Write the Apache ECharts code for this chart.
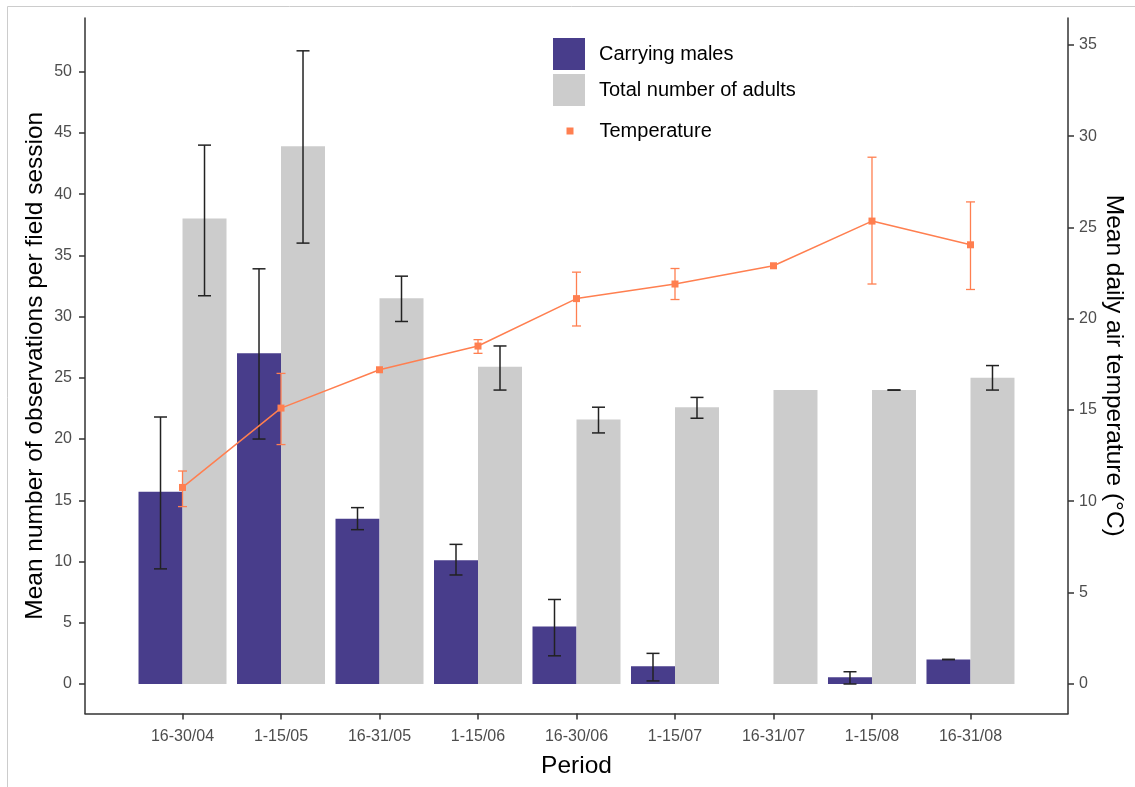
<!DOCTYPE html>
<html>
<head>
<meta charset="utf-8">
<script src="https://cdn.jsdelivr.net/npm/echarts@6/dist/echarts.min.js"></script>
<style>html,body{margin:0;padding:0;background:#fff}#chart{width:1135px;height:787px}</style>
</head>
<body>
<div id="chart"></div>
<script>
const categories = ['16-30/04','1-15/05','16-31/05','1-15/06','16-30/06','1-15/07','16-31/07','1-15/08','16-31/08'];
const males      = [15.7, 27.0, 13.5, 10.1, 4.7, 1.45, 0, 0.55, 2.0];
const malesLow   = [9.4, 20.0, 12.6, 8.9, 2.3, 0.25, null, 0.0, 2.0];
const malesHigh  = [21.8, 33.9, 14.4, 11.4, 6.9, 2.5, null, 1.0, 2.0];
const adults     = [38.0, 43.9, 31.5, 25.9, 21.6, 22.6, 24.0, 24.0, 25.0];
const adultsLow  = [31.7, 36.0, 29.6, 24.0, 20.5, 21.7, null, 24.0, 24.0];
const adultsHigh = [44.0, 51.7, 33.3, 27.6, 22.6, 23.4, null, 24.0, 26.0];
const temp       = [10.75, 15.1, 17.2, 18.5, 21.1, 21.9, 22.9, 25.35, 24.05];
const tempLow    = [9.7, 13.1, null, 18.1, 19.6, 21.05, null, 21.9, 21.6];
const tempHigh   = [11.65, 17.0, null, 18.85, 22.55, 22.75, null, 28.85, 26.4];
const leftTicks  = [0, 5, 10, 15, 20, 25, 30, 35, 40, 45, 50];
const rightTicks = [0, 5, 10, 15, 20, 25, 30, 35];
const xTicks = categories.map((c, i) => i);

const FONT = 'Liberation Sans, Arial, sans-serif';
const PURPLE = '#483D8B', GREY = '#CCCCCC', ORANGE = '#FF7F50';

function errData(lo, hi) {
  const out = [];
  categories.forEach((c, i) => { if (lo[i] != null) out.push([i, lo[i], hi[i]]); });
  return out;
}
function errRender(shift, color, cap, lw) {
  return function (params, api) {
    const x = api.value(0), lo = api.value(1), hi = api.value(2);
    const a = api.coord([x, lo]), b = api.coord([x, hi]);
    const cx = a[0] + shift;
    const st = { stroke: color, lineWidth: lw };
    return { type: 'group', children: [
      { type: 'line', shape: { x1: cx, y1: a[1], x2: cx, y2: b[1] }, style: st },
      { type: 'line', shape: { x1: cx - cap / 2, y1: a[1], x2: cx + cap / 2, y2: a[1] }, style: st },
      { type: 'line', shape: { x1: cx - cap / 2, y1: b[1], x2: cx + cap / 2, y2: b[1] }, style: st }
    ]};
  };
}

const axisLineStyle = { color: '#333333', width: 1.5 };
const chart = echarts.init(document.getElementById('chart'));
chart.setOption({
  animation: false,
  backgroundColor: '#ffffff',
  grid: { left: 85, right: 67, top: 18, bottom: 73.5, containLabel: false, outerBoundsMode: 'none' },
  graphic: [{ type: 'rect', silent: true, shape: { x: 7.5, y: 6.5, width: 1140, height: 800 },
    style: { fill: 'none', stroke: '#cccccc', lineWidth: 1 }, z: -10 }],
  legend: [
    { data: ['Carrying males', 'Total number of adults'], orient: 'vertical', left: 553, top: 38,
      padding: 0, itemWidth: 32, itemHeight: 32, itemGap: 4, icon: 'rect', selectedMode: false,
      textStyle: { fontSize: 20, fontFamily: FONT, color: '#000', padding: [0, 0, 0, 9] } },
    { data: [{ name: 'Temperature', icon: 'rect' }], orient: 'vertical', left: 566.5, top: 121,
      padding: 0, itemWidth: 7, itemHeight: 7, selectedMode: false,
      textStyle: { fontSize: 20, fontFamily: FONT, color: '#000', padding: [0, 0, 0, 21] } }
  ],
  xAxis: {
    type: 'value', min: -0.99, max: 8.99,
    name: 'Period', nameLocation: 'middle', nameGap: 40, nameMoveOverlap: false,
    nameTextStyle: { fontSize: 24.5, fontFamily: FONT, color: '#000' },
    axisLine: { show: true, onZero: false, lineStyle: axisLineStyle },
    axisTick: { show: true, length: 6, customValues: xTicks, lineStyle: axisLineStyle },
    axisLabel: { customValues: xTicks, margin: 15, fontSize: 16, fontFamily: FONT, color: '#4D4D4D',
      formatter: v => categories[Math.round(v)] },
    splitLine: { show: false }
  },
  yAxis: [
    { type: 'value', position: 'left', min: -2.41, max: 54.38,
      name: 'Mean number of observations per field session', nameLocation: 'middle', nameGap: 37, nameRotate: 90,
      nameMoveOverlap: false,
      nameTextStyle: { fontSize: 24.5, fontFamily: FONT, color: '#000' },
      axisLine: { show: true, onZero: false, lineStyle: axisLineStyle },
      axisTick: { show: true, length: 6, customValues: leftTicks, lineStyle: axisLineStyle },
      axisLabel: { customValues: leftTicks, margin: 13, fontSize: 16, fontFamily: FONT, color: '#4D4D4D' },
      splitLine: { show: false } },
    { type: 'value', position: 'right', min: -1.64, max: 36.48,
      name: 'Mean daily air temperature (°C)', nameLocation: 'middle', nameGap: 33, nameRotate: -90,
      nameMoveOverlap: false,
      nameTextStyle: { fontSize: 24.5, fontFamily: FONT, color: '#000' },
      axisLine: { show: true, onZero: false, lineStyle: axisLineStyle },
      axisTick: { show: true, length: 6, customValues: rightTicks, lineStyle: axisLineStyle },
      axisLabel: { customValues: rightTicks, margin: 11, fontSize: 16, fontFamily: FONT, color: '#4D4D4D' },
      splitLine: { show: false } }
  ],
  series: [
    { name: 'Carrying males', type: 'bar', yAxisIndex: 0, barWidth: 44, barGap: '0%',
      itemStyle: { color: PURPLE }, z: 2, data: males.map((v, i) => [i, v]) },
    { name: 'Total number of adults', type: 'bar', yAxisIndex: 0, barWidth: 44, barGap: '0%',
      itemStyle: { color: GREY }, z: 2, data: adults.map((v, i) => [i, v]) },
    { type: 'custom', yAxisIndex: 0, z: 3, silent: true, renderItem: errRender(-22, '#222222', 13, 1.5),
      data: errData(malesLow, malesHigh) },
    { type: 'custom', yAxisIndex: 0, z: 3, silent: true, renderItem: errRender(22, '#222222', 13, 1.5),
      data: errData(adultsLow, adultsHigh) },
    { name: 'Temperature', type: 'line', yAxisIndex: 1, z: 4, symbol: 'rect', symbolSize: 7,
      itemStyle: { color: ORANGE }, lineStyle: { color: ORANGE, width: 1.5 },
      data: temp.map((v, i) => [i, v]) },
    { type: 'custom', yAxisIndex: 1, z: 5, silent: true, renderItem: errRender(0, ORANGE, 9, 1.3),
      data: errData(tempLow, tempHigh) }
  ]
});
</script>
</body>
</html>
